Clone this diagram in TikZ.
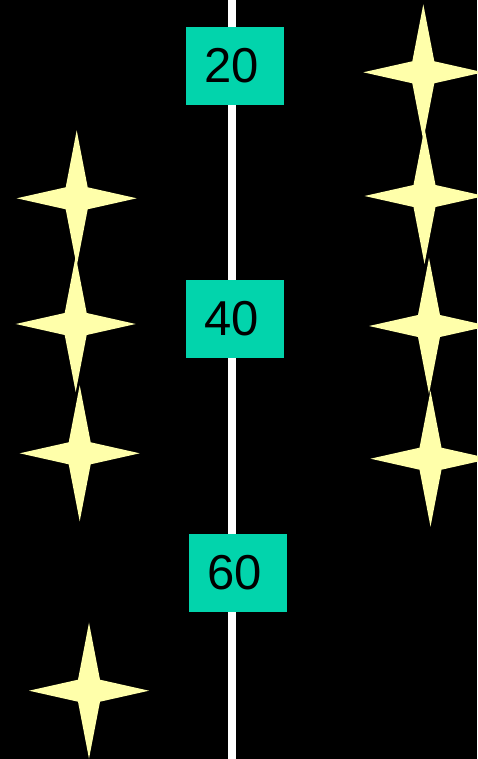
\documentclass[tikz,border=0pt]{standalone}
\usepackage{fontspec}
\setmainfont{Liberation Sans}
\definecolor{boxteal}{RGB}{2,212,172}
\definecolor{starfill}{RGB}{255,255,170}
\begin{document}
\begin{tikzpicture}[x=1pt,y=-1pt,
  yearbox/.style={fill=boxteal, draw=none, minimum width=98pt, minimum height=78pt,
    inner sep=0pt, text=black, font=\fontsize{49}{58}\selectfont},
  spine/.style={draw=white, line width=8pt},
  sparkle/.pic={\fill[starfill] (0,-68) -- (11,-11) -- (60,0) -- (11,11) -- (0,68) -- (-11,11) -- (-60,0) -- (-11,-11) -- cycle;}]
\fill[black] (0,0) rectangle (477,759);
\useasboundingbox (0,0) rectangle (477,759);
% spine
\coordinate (top) at (232,0);
\coordinate (b1) at (232,206);
\coordinate (b2) at (232,394);
\coordinate (bottom) at (232,759);
\draw[spine] (top) -- (b1);
\draw[spine] (b1) -- (b2);
\draw[spine] (b2) -- (bottom);
% boxes
\node[yearbox] (y20) at (235,66) {20\kern6pt};
\node[yearbox] (y40) at (235,318.5) {\raisebox{-2pt}{40}\kern6pt};
\node[yearbox] (y60) at (238,573) {\raisebox{-1pt}{60}\kern6pt};
% stars left
\pic at (76.7,198.3) {sparkle};
\pic at (75.7,324) {sparkle};
\pic at (79.7,453.3) {sparkle};
\pic at (89,690.7) {sparkle};
% stars right
\pic at (423.3,72.3) {sparkle};
\pic at (424.5,196) {sparkle};
\pic at (429,326) {sparkle};
\pic at (430.5,458.7) {sparkle};
\end{tikzpicture}
\end{document}
